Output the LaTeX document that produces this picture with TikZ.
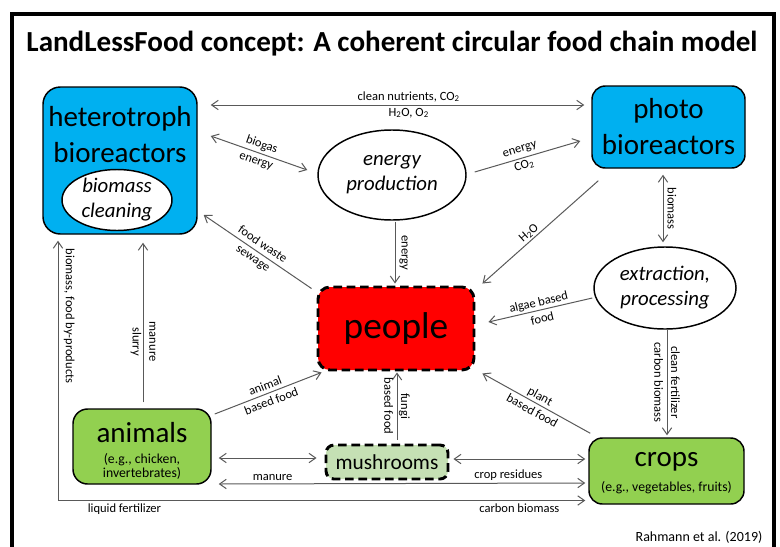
\documentclass[tikz,border=0pt]{standalone}
\usepackage{fontspec}
\setmainfont{Carlito}
\usetikzlibrary{arrows.meta,shapes.geometric,calc}
\definecolor{hblue}{HTML}{00B0F0}
\definecolor{agreen}{HTML}{92D050}
\definecolor{mgreen}{HTML}{C5E0B4}
\definecolor{lgray}{HTML}{595959}
\begin{document}
\begin{tikzpicture}[x=0.75pt,y=-0.75pt,
  box/.style={draw=black,line width=1.1pt,rounded corners=11pt,inner sep=0pt},
  dbox/.style={draw=black,line width=2.2pt,dash pattern=on 6.5pt off 3.5pt,rounded corners=9pt,inner sep=0pt},
  oval/.style={ellipse,draw=black,line width=1.1pt,fill=white,inner sep=0pt,align=center,font=\fontsize{15.6}{18.75}\selectfont\itshape},
  big/.style={font=\fontsize{21.75}{27}\selectfont,align=center,inner sep=0pt},
  sub/.style={font=\fontsize{10.3}{10.8}\selectfont,align=center,inner sep=0pt},
  lbl/.style={font=\fontsize{9.4}{12.6}\selectfont,align=center,inner sep=1pt},
  tip/.tip={Straight Barb[length=5pt,width=7pt]},
  arr/.style={draw=lgray,line width=0.75pt,-tip},
  darr/.style={draw=lgray,line width=0.75pt,tip-tip},
]
\useasboundingbox (0,0) rectangle (780,546);
% frame
\draw[line width=2.6pt] (12,548) -- (12,14) -- (774,14) -- (774,548);
% title
\node[font=\fontsize{21.8}{26}\selectfont\bfseries] (title) at (392,44) {LandLessFood concept: A coherent circular food chain model};
% nodes
\node[box,fill=hblue,minimum width=115.5pt,minimum height=110.25pt,rounded corners=13pt] (het) at (120,160.5) {};
\node[big] (hettxt) at (120,135) {heterotroph\\bioreactors};
\node[oval,minimum width=82.5pt,minimum height=45.75pt] (clean) at (117,200) {biomass\\cleaning};
\node[box,big,fill=hblue,minimum width=114.75pt,minimum height=61.5pt,rounded corners=10pt] (photo) at (668.5,127) {photo\\bioreactors};
\node[oval,minimum width=111pt,minimum height=67.5pt] (energy) at (392,175) {energy\\production};
\node[oval,minimum width=106.5pt,minimum height=61.5pt] (extr) at (665,288) {extraction,\\processing};
\node[dbox,fill=red,minimum width=117pt,minimum height=62.25pt,font=\fontsize{28}{30}\selectfont] (people) at (396,328.5) {people};
\node[box,fill=agreen,minimum width=103.5pt,minimum height=56.25pt] (ani) at (142,446.5) {};
\node[big] (anitxt) at (142,433) {animals};
\node[sub] (anisub) at (142,466.5) {(e.g., chicken,\\invertebrates)};
\node[dbox,fill=mgreen,minimum width=91.5pt,minimum height=25.5pt,rounded corners=6pt,font=\fontsize{16}{18}\selectfont] (mush) at (387,462) {mushrooms};
\node[box,fill=agreen,minimum width=116.25pt,minimum height=49.5pt,rounded corners=10pt] (crops) at (666.5,471) {};
\node[big] (croptxt) at (666.5,462) {crops};
\node[sub] (cropsub) at (666.5,488) {(e.g., vegetables, fruits)};
\node[font=\fontsize{10.5}{12}\selectfont] (credit) at (699,537) {Rahmann et al. (2019)};
% connectors
\draw[darr] ([shift={(13,-55.5)}]het.east) -- ([shift={(-7,-22)}]photo.west)
  node[lbl,pos=0.53,above=1pt] (l1) {clean nutrients, CO\textsubscript{2}}
  node[lbl,pos=0.53,below=1pt] (l2) {H\textsubscript{2}O, O\textsubscript{2}};
\draw[darr] ([shift={(13,-24.5)}]het.east) -- ([shift={(-10,-5)}]energy.west)
  node[lbl,midway,sloped] (l3) {biogas\\energy};
\draw[arr] ([shift={(8,-3)}]energy.east) -- ([shift={(-11,14)}]photo.west)
  node[lbl,pos=0.45,sloped] (l4) {energy\\CO\textsubscript{2}};
\draw[arr] ([shift={(3,1)}]energy.south) -- ([shift={(-1,-2)}]people.north)
  node[lbl,midway,rotate=-90,anchor=south,inner sep=3pt] (l5) {energy};
\draw[arr] ([shift={(7,12)}]photo.south west) -- ([shift={(7,-2)}]people.north east)
  node[lbl,pos=0.56,sloped,above] (l6) {H\textsubscript{2}O};
\draw[darr] ([shift={(-5.5,6)}]photo.south) -- ([shift={(-2,-4)}]extr.north)
  node[lbl,midway,rotate=-90,anchor=south,inner sep=3pt] (l7) {biomass};
\draw[arr] ([shift={(-1,10)}]extr.west) -- ([shift={(13,-6.5)}]people.east)
  node[lbl,midway,sloped] (l8) {algae based\\food};
\draw[arr] ([shift={(2,0)}]extr.south) -- ([shift={(0.5,-2)}]crops.north)
  node[lbl,midway,rotate=-90] (l9) {clean fertilizer\\carbon biomass};
\draw[arr] ([shift={(-5,3)}]people.north west) -- ([shift={(6,54.5)}]het.east)
  node[lbl,midway,sloped] (l10) {food waste\\sewage};
\draw[arr] ([shift={(1,-6)}]ani.north) -- ([shift={(23,8)}]het.south)
  node[lbl,pos=0.38,rotate=-90] (l11) {manure\\slurry};
\draw[arr] ([shift={(3,-32.5)}]ani.east) -- ([shift={(5,1)}]people.south west)
  node[lbl,midway,sloped] (l12) {animal\\based food};
\draw[arr] ([shift={(10,-4)}]mush.north) -- ([shift={(1,1)}]people.south)
  node[lbl,midway,rotate=-90] (l13) {fungi\\based food};
\draw[arr] ([shift={(2,-4)}]crops.north west) -- ([shift={(7,2)}]people.south east)
  node[lbl,midway,sloped] (l14) {plant\\based food};
\draw[darr] ([shift={(7,11.5)}]ani.east) -- ([shift={(-8,-4)}]mush.west);
\draw[darr] ([shift={(4,-3)}]mush.east) -- ([shift={(-3,-12)}]crops.west);
\draw[darr] ([shift={(7,37.5)}]ani.east) -- ([shift={(-3,12)}]crops.west)
  node[lbl,pos=0.147,above=1pt] (l15) {manure}
  node[lbl,pos=0.79,above=1pt] (l16) {crop residues};
\draw[darr] ([shift={(-62,6)}]het.south) |- ([shift={(-3,29.5)}]crops.west)
  node[lbl,pos=0.145,rotate=-90,anchor=south,inner sep=4pt] (l17) {biomass, food by-products}
  node[lbl,pos=0.563,below=1pt] (l18) {liquid fertilizer}
  node[lbl,pos=0.9375,below=1pt] (l19) {carbon biomass};
\end{tikzpicture}
\end{document}
